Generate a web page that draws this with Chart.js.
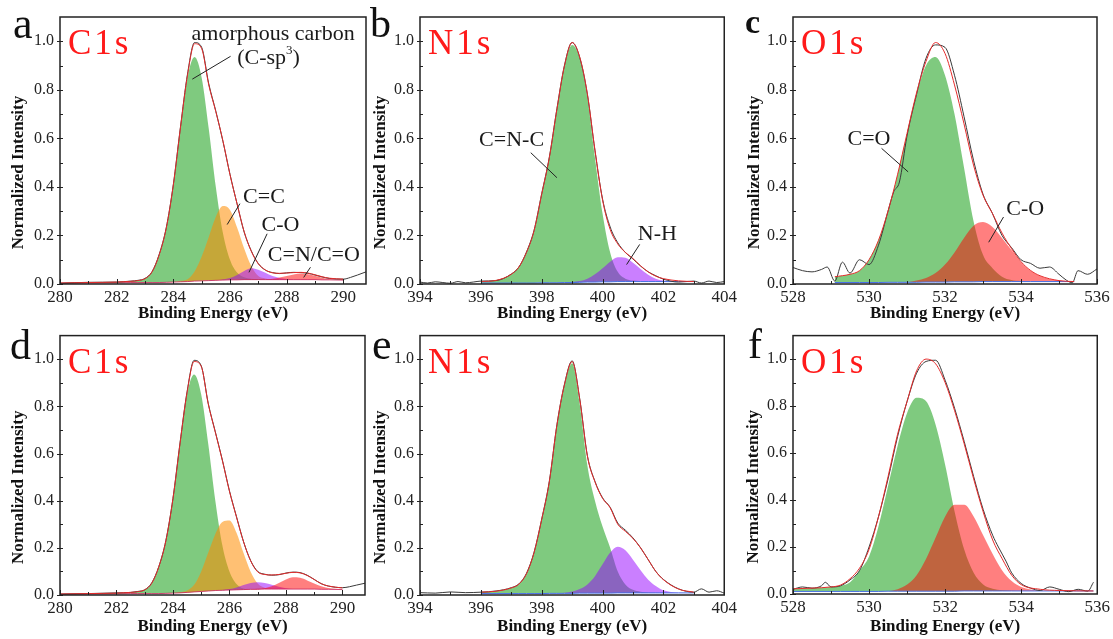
<!DOCTYPE html>
<html>
<head>
<meta charset="utf-8">
<script src="https://cdn.jsdelivr.net/npm/chart.js@4.4.1/dist/chart.umd.min.js"></script>
<style>
  html, body { margin: 0; padding: 0; background: #fff; }
  #fig { position: relative; width: 1113px; height: 639px; overflow: hidden; background: #fff; }
  .panel { position: absolute; }
</style>
</head>
<body>
<div id="fig">
  <canvas id="pa" class="panel" width="370" height="330" style="left:0;top:0"></canvas>
  <canvas id="pb" class="panel" width="370" height="330" style="left:370px;top:0"></canvas>
  <canvas id="pc" class="panel" width="373" height="330" style="left:740px;top:0"></canvas>
  <canvas id="pd" class="panel" width="370" height="319" style="left:0;top:320px"></canvas>
  <canvas id="pe" class="panel" width="370" height="319" style="left:370px;top:320px"></canvas>
  <canvas id="pf" class="panel" width="373" height="319" style="left:740px;top:320px"></canvas>
</div>
<script>
// ---- panel a : C1s ----
const aX = [280, 281, 282, 282.5, 282.75, 283, 283.25, 283.5, 283.75, 284, 284.25, 284.5, 284.75, 285, 285.25, 285.5, 285.75, 286, 286.25, 286.5, 286.75, 287, 287.25, 287.5, 287.75, 288, 288.25, 288.5, 288.75, 289, 289.25, 289.5, 290];
const aBg = [0.003, 0.004, 0.005, 0.006, 0.006, 0.006, 0.006, 0.006, 0.007, 0.008, 0.009, 0.010, 0.012, 0.013, 0.014, 0.015, 0.016, 0.017, 0.017, 0.018, 0.018, 0.018, 0.018, 0.018, 0.018, 0.018, 0.018, 0.018, 0.018, 0.018, 0.017, 0.017, 0.016];
const aSp3 = [0.004, 0.006, 0.008, 0.011, 0.014, 0.022, 0.05, 0.12, 0.23, 0.408, 0.639, 0.85, 0.935, 0.85, 0.64, 0.40, 0.21, 0.10, 0.047, 0.028, 0.022, 0.02, 0.019, 0.019, 0.018, 0.018, 0.018, 0.018, 0.018, 0.018, 0.017, 0.017, 0.016];
const aCC = [0.003, 0.004, 0.005, 0.006, 0.006, 0.006, 0.006, 0.006, 0.007, 0.008, 0.013, 0.02, 0.052, 0.113, 0.194, 0.277, 0.321, 0.305, 0.233, 0.146, 0.074, 0.033, 0.023, 0.018, 0.018, 0.018, 0.018, 0.018, 0.018, 0.018, 0.017, 0.017, 0.016];
const aCO = [0.003, 0.004, 0.005, 0.006, 0.006, 0.006, 0.006, 0.006, 0.007, 0.008, 0.009, 0.010, 0.012, 0.013, 0.014, 0.015, 0.019, 0.025, 0.037, 0.054, 0.065, 0.059, 0.046, 0.033, 0.025, 0.021, 0.018, 0.018, 0.018, 0.018, 0.017, 0.017, 0.016];
const aCN = [0.003, 0.004, 0.005, 0.006, 0.006, 0.006, 0.006, 0.006, 0.007, 0.008, 0.009, 0.010, 0.012, 0.013, 0.014, 0.015, 0.016, 0.017, 0.017, 0.018, 0.018, 0.018, 0.018, 0.022, 0.027, 0.033, 0.039, 0.043, 0.04, 0.034, 0.026, 0.021, 0.017];
const aFit = [0.004, 0.006, 0.008, 0.011, 0.014, 0.022, 0.05, 0.12, 0.23, 0.408, 0.643, 0.86, 0.99, 0.97, 0.82, 0.71, 0.59, 0.45, 0.33, 0.215, 0.135, 0.083, 0.058, 0.046, 0.044, 0.045, 0.047, 0.048, 0.045, 0.038, 0.03, 0.024, 0.02];
const aRawX = [...aX, 290.25, 290.5, 290.8];
const aRaw = [0.003, 0.007, 0.008, 0.012, 0.015, 0.023, 0.051, 0.122, 0.232, 0.41, 0.645, 0.865, 0.995, 0.975, 0.825, 0.712, 0.588, 0.452, 0.33, 0.214, 0.137, 0.084, 0.057, 0.047, 0.043, 0.046, 0.048, 0.047, 0.044, 0.037, 0.029, 0.023, 0.02, 0.027, 0.037, 0.05];

// ---- panel b : N1s ----
const bX = [396, 396.5, 397, 397.25, 397.5, 397.75, 398, 398.25, 398.5, 398.75, 399, 399.25, 399.5, 399.75, 400, 400.25, 400.5, 400.75, 401, 401.25, 401.5, 401.75, 402, 402.5, 403];
const bBg = [0.004, 0.004, 0.004, 0.004, 0.004, 0.004, 0.005, 0.005, 0.005, 0.006, 0.006, 0.007, 0.008, 0.008, 0.009, 0.009, 0.01, 0.01, 0.01, 0.01, 0.01, 0.01, 0.01, 0.01, 0.01];
const bCNC = [0.01, 0.015, 0.04, 0.07, 0.13, 0.22, 0.37, 0.52, 0.72, 0.90, 0.985, 0.93, 0.77, 0.52, 0.29, 0.13, 0.05, 0.022, 0.014, 0.012, 0.011, 0.011, 0.011, 0.01, 0.01];
const bNH = [0.004, 0.004, 0.004, 0.004, 0.004, 0.004, 0.005, 0.005, 0.005, 0.006, 0.008, 0.012, 0.022, 0.04, 0.065, 0.092, 0.11, 0.108, 0.088, 0.062, 0.038, 0.022, 0.014, 0.01, 0.01];
const bFit = [0.01, 0.015, 0.04, 0.07, 0.13, 0.22, 0.37, 0.52, 0.72, 0.90, 0.995, 0.935, 0.784, 0.552, 0.346, 0.225, 0.165, 0.13, 0.105, 0.075, 0.05, 0.032, 0.022, 0.013, 0.01];
const bRawX = [394, 394.25, 394.5, 394.75, 395, 395.25, 395.5, 395.75, ...bX, 403.25, 403.5, 403.75, 404];
const bRaw = [0.008, 0.004, 0.009, 0.006, 0.003, 0.01, 0.005, 0.008,
  0.012, 0.014, 0.041, 0.07, 0.132, 0.222, 0.372, 0.522, 0.722, 0.902, 0.995, 0.933, 0.782, 0.55, 0.35, 0.235, 0.17, 0.13, 0.103, 0.074, 0.05, 0.034, 0.02, 0.008, 0.012,
  0.004, 0.012, 0.006, 0.01];

// ---- panel c : O1s ----
const cX = [529.1, 529.5, 529.75, 530, 530.25, 530.5, 530.75, 531, 531.25, 531.5, 531.75, 532, 532.25, 532.5, 532.75, 533, 533.25, 533.5, 533.75, 534, 534.25, 534.5, 535, 535.4];
const cBg = [0.006, 0.006, 0.006, 0.006, 0.006, 0.007, 0.007, 0.007, 0.007, 0.008, 0.008, 0.008, 0.009, 0.009, 0.009, 0.01, 0.01, 0.01, 0.01, 0.01, 0.01, 0.01, 0.01, 0.01];
const cCdO = [0.03, 0.04, 0.055, 0.1, 0.18, 0.3, 0.45, 0.62, 0.78, 0.9, 0.935, 0.86, 0.7, 0.48, 0.26, 0.12, 0.065, 0.03, 0.016, 0.012, 0.011, 0.011, 0.01, 0.01];
const cCO = [0.006, 0.006, 0.006, 0.006, 0.006, 0.007, 0.007, 0.007, 0.014, 0.025, 0.045, 0.08, 0.13, 0.19, 0.24, 0.255, 0.235, 0.19, 0.14, 0.09, 0.055, 0.033, 0.014, 0.01];
const cFit = [0.03, 0.04, 0.055, 0.1, 0.18, 0.3, 0.45, 0.62, 0.787, 0.917, 0.995, 0.95, 0.82, 0.66, 0.49, 0.366, 0.29, 0.21, 0.146, 0.092, 0.056, 0.034, 0.014, 0.01];
const cRawX = [528, 528.25, 528.5, 528.75, 528.9, 529.1, 529.3, 529.5, 529.75, 530, 530.25, 530.5, 530.65, 530.8, 531, 531.25, 531.5, 531.75, 532, 532.25, 532.5, 532.75, 533, 533.25, 533.5, 533.75, 534, 534.25, 534.5, 534.75, 535, 535.2, 535.35, 535.5, 535.75, 536];
const cRaw = [0.068, 0.055, 0.05, 0.06, 0.07, 0.012, 0.09, 0.045, 0.1, 0.08, 0.16, 0.3, 0.38, 0.42, 0.61, 0.78, 0.93, 0.985, 0.975, 0.86, 0.69, 0.51, 0.37, 0.29, 0.2, 0.15, 0.1, 0.085, 0.065, 0.07, 0.04, 0.015, 0.005, 0.055, 0.04, 0.062];

// ---- panel d : C1s ----
const dX = aX;
const dBg = [0.003, 0.004, 0.005, 0.006, 0.006, 0.006, 0.006, 0.006, 0.007, 0.008, 0.009, 0.011, 0.013, 0.015, 0.017, 0.019, 0.02, 0.021, 0.022, 0.023, 0.024, 0.024, 0.025, 0.025, 0.025, 0.025, 0.025, 0.025, 0.025, 0.025, 0.024, 0.024, 0.023];
const dSp3 = [0.004, 0.006, 0.008, 0.011, 0.014, 0.022, 0.05, 0.12, 0.23, 0.408, 0.639, 0.851, 0.935, 0.85, 0.64, 0.40, 0.21, 0.10, 0.047, 0.028, 0.025, 0.024, 0.025, 0.025, 0.025, 0.025, 0.025, 0.025, 0.025, 0.025, 0.024, 0.024, 0.023];
const dCC = [0.003, 0.004, 0.005, 0.006, 0.006, 0.006, 0.006, 0.006, 0.007, 0.008, 0.012, 0.019, 0.043, 0.10, 0.18, 0.259, 0.31, 0.316, 0.264, 0.178, 0.099, 0.049, 0.031, 0.025, 0.025, 0.025, 0.025, 0.025, 0.025, 0.025, 0.024, 0.024, 0.023];
const dCO = [0.003, 0.004, 0.005, 0.006, 0.006, 0.006, 0.006, 0.006, 0.007, 0.008, 0.009, 0.011, 0.013, 0.015, 0.017, 0.019, 0.021, 0.025, 0.032, 0.042, 0.051, 0.054, 0.051, 0.043, 0.035, 0.029, 0.025, 0.025, 0.025, 0.025, 0.024, 0.024, 0.023];
const dCN = [0.003, 0.004, 0.005, 0.006, 0.006, 0.006, 0.006, 0.006, 0.007, 0.008, 0.009, 0.011, 0.013, 0.015, 0.017, 0.019, 0.02, 0.021, 0.022, 0.023, 0.024, 0.026, 0.029, 0.037, 0.051, 0.066, 0.075, 0.073, 0.062, 0.049, 0.037, 0.03, 0.025];
const dFit = [0.004, 0.006, 0.008, 0.011, 0.014, 0.022, 0.05, 0.12, 0.23, 0.408, 0.642, 0.859, 0.99, 0.97, 0.81, 0.69, 0.57, 0.44, 0.33, 0.225, 0.145, 0.098, 0.087, 0.085, 0.087, 0.092, 0.096, 0.094, 0.083, 0.066, 0.048, 0.038, 0.03];
const dRawX = [...dX, 290.25, 290.5, 290.8];
const dRaw = [0.004, 0.006, 0.009, 0.011, 0.015, 0.022, 0.052, 0.121, 0.232, 0.41, 0.645, 0.862, 0.995, 0.972, 0.812, 0.692, 0.572, 0.442, 0.332, 0.226, 0.146, 0.1, 0.088, 0.084, 0.086, 0.093, 0.097, 0.095, 0.084, 0.066, 0.048, 0.038, 0.031, 0.035, 0.042, 0.05];

// ---- panel e : N1s ----
const eX = bX;
const eBg = [0.006, 0.006, 0.006, 0.006, 0.006, 0.006, 0.006, 0.007, 0.007, 0.007, 0.007, 0.008, 0.008, 0.008, 0.008, 0.008, 0.009, 0.009, 0.009, 0.009, 0.009, 0.009, 0.009, 0.009, 0.009];
const eCNC = [0.012, 0.015, 0.03, 0.046, 0.09, 0.18, 0.32, 0.48, 0.72, 0.89, 0.983, 0.81, 0.55, 0.4, 0.29, 0.2, 0.1, 0.045, 0.022, 0.014, 0.011, 0.01, 0.009, 0.009, 0.009];
const eNH = [0.006, 0.006, 0.006, 0.006, 0.006, 0.006, 0.006, 0.007, 0.007, 0.01, 0.015, 0.025, 0.045, 0.08, 0.13, 0.18, 0.205, 0.19, 0.15, 0.105, 0.065, 0.038, 0.02, 0.01, 0.009];
const eFit = [0.012, 0.016, 0.03, 0.046, 0.09, 0.18, 0.32, 0.48, 0.72, 0.893, 0.99, 0.83, 0.59, 0.48, 0.41, 0.37, 0.3, 0.27, 0.24, 0.2, 0.15, 0.1, 0.065, 0.025, 0.012];
const eRawX = [394, 394.5, 395, 395.5, ...eX, 403.25, 403.5, 403.75, 404];
const eRaw = [0.01, 0.008, 0.013, 0.01,
  0.012, 0.017, 0.031, 0.047, 0.092, 0.182, 0.322, 0.482, 0.722, 0.895, 0.993, 0.832, 0.592, 0.482, 0.412, 0.372, 0.305, 0.275, 0.242, 0.2, 0.15, 0.1, 0.066, 0.026, 0.012,
  0.026, 0.012, 0.018, 0.008];

// ---- panel f : O1s ----
const fX = [528, 528.5, 529, 529.25, 529.5, 529.75, 530, 530.25, 530.5, 530.75, 531, 531.25, 531.5, 531.75, 532, 532.25, 532.5, 532.75, 533, 533.25, 533.5, 533.75, 534, 534.5, 535, 535.9];
const fBg = [0.011, 0.011, 0.011, 0.011, 0.011, 0.011, 0.011, 0.011, 0.012, 0.012, 0.012, 0.012, 0.012, 0.012, 0.012, 0.012, 0.013, 0.013, 0.013, 0.013, 0.013, 0.013, 0.013, 0.013, 0.013, 0.013];
const fCdO = [0.022, 0.025, 0.03, 0.035, 0.05, 0.1, 0.16, 0.29, 0.46, 0.63, 0.77, 0.835, 0.82, 0.72, 0.55, 0.35, 0.19, 0.09, 0.04, 0.022, 0.016, 0.014, 0.013, 0.013, 0.013, 0.013];
const fCO = [0.011, 0.011, 0.011, 0.011, 0.011, 0.011, 0.011, 0.011, 0.012, 0.02, 0.04, 0.08, 0.15, 0.24, 0.33, 0.38, 0.38, 0.33, 0.25, 0.17, 0.1, 0.055, 0.03, 0.015, 0.013, 0.013];
const fFit = [0.022, 0.025, 0.03, 0.038, 0.065, 0.11, 0.19, 0.33, 0.5, 0.68, 0.82, 0.95, 1.0, 0.98, 0.9, 0.78, 0.64, 0.49, 0.35, 0.23, 0.15, 0.08, 0.04, 0.02, 0.015, 0.013];
const fRawX = [528, 528.25, 528.5, 528.75, 528.85, 529, 529.25, 529.5, 529.75, 530, 530.25, 530.5, 530.75, 531, 531.25, 531.5, 531.75, 532, 532.25, 532.5, 532.75, 533, 533.25, 533.4, 533.6, 533.75, 534, 534.25, 534.5, 534.75, 535, 535.25, 535.5, 535.75, 535.9];
const fRaw = [0.02, 0.03, 0.025, 0.035, 0.05, 0.03, 0.035, 0.06, 0.1, 0.2, 0.33, 0.49, 0.67, 0.82, 0.94, 0.99, 0.995, 0.91, 0.79, 0.65, 0.5, 0.36, 0.25, 0.2, 0.14, 0.09, 0.045, 0.025, 0.015, 0.03, 0.02, 0.01, 0.02, 0.012, 0.05];

const yTicks = [0, 0.2, 0.4, 0.6, 0.8, 1.0];

const SERIF = '"Liberation Serif", "Times New Roman", serif';
const GREEN = 'rgba(0,150,0,0.5)';
const ORANGE = 'rgba(255,140,0,0.55)';
const PURPLE = 'rgba(150,0,255,0.5)';
const RED = 'rgba(255,0,0,0.5)';

const pts = (xs, ys) => xs.map((x, i) => ({ x: x, y: ys[i] }));

// frame, ticks, labels and leader lines
const decor = {
    id: 'decor',
    afterDraw(chart, args, o) {
        const { ctx, chartArea: a, scales: { x, y } } = chart;
        ctx.save();
        ctx.strokeStyle = '#222';
        ctx.lineWidth = 1;
        ctx.beginPath();
        for (let v = Math.ceil(x.min); v <= x.max + 1e-6; v += 1) {
            const px = Math.round(x.getPixelForValue(v)) + 0.5;
            const len = (v % 2 === 0) ? 5 : 3;
            ctx.moveTo(px, a.bottom);
            ctx.lineTo(px, a.bottom - len);
        }
        for (let k = 0; k <= 10; k++) {
            const py = Math.round(y.getPixelForValue(k / 10)) + 0.5;
            if (k % 2 === 0) {
                ctx.moveTo(a.left - 3, py);
                ctx.lineTo(a.left + 3, py);
            } else {
                ctx.moveTo(a.left, py);
                ctx.lineTo(a.left + 3, py);
            }
        }
        ctx.stroke();

        ctx.lineWidth = 1.5;
        ctx.strokeRect(a.left, a.top, a.right - a.left, a.bottom - a.top);

        // leader lines
        ctx.lineWidth = 1;
        (o.lines || []).forEach(l => {
            ctx.beginPath();
            ctx.moveTo(x.getPixelForValue(l[0]), y.getPixelForValue(l[1]));
            ctx.lineTo(x.getPixelForValue(l[2]), y.getPixelForValue(l[3]));
            ctx.stroke();
        });

        // notes, '^' toggles superscript
        ctx.fillStyle = '#1a1a1a';
        ctx.textBaseline = 'middle';
        ctx.textAlign = 'left';
        (o.notes || []).forEach(n => {
            const parts = n.t.split('^');
            const fonts = parts.map((p, i) => (i % 2 ? '13px ' : '22px ') + SERIF);
            let w = 0;
            parts.forEach((p, i) => { ctx.font = fonts[i]; w += ctx.measureText(p).width; });
            let px = x.getPixelForValue(n.x) - w / 2;
            const py = y.getPixelForValue(n.y);
            parts.forEach((p, i) => {
                ctx.font = fonts[i];
                ctx.fillText(p, px, i % 2 ? py - 8 : py);
                px += ctx.measureText(p).width;
            });
        });

        // y title
        ctx.save();
        ctx.translate(a.left - o.titleDx, (a.top + a.bottom) / 2 + 22);
        ctx.rotate(-Math.PI / 2);
        ctx.font = 'bold 17px ' + SERIF;
        ctx.textAlign = 'center';
        ctx.fillStyle = '#111';
        ctx.fillText('Normalized Intensity', 0, 0);
        ctx.restore();

        // panel letter and core level
        ctx.textBaseline = 'alphabetic';
        ctx.textAlign = 'left';
        ctx.font = o.letterFont + ' ' + SERIF;
        ctx.fillStyle = '#111';
        ctx.fillText(o.letter, a.left + o.lx, a.top + o.ly);
        ctx.font = '35px ' + SERIF;
        ctx.fillStyle = '#ff1a1a';
        ctx.letterSpacing = '3px';
        ctx.fillText(o.level, a.left + 8, a.top + 37);
        ctx.letterSpacing = '0px';
        ctx.restore();
    }
};

function makePanel(id, p) {
    const sets = [{ data: pts(p.x, p.bg), borderColor: p.bgColor, borderWidth: 1, fill: false, order: 2 }];
    p.comps.forEach((c, i) => sets.push({
        data: pts(p.x, c[0]), backgroundColor: c[1], borderColor: 'rgba(0,0,0,0)', borderWidth: 1, fill: 0, order: 10 - i
    }));
    sets.push({ data: pts(p.rawX, p.raw), borderColor: '#3a3a3a', borderWidth: 1, fill: false, order: 1 });
    sets.push({ data: pts(p.x, p.fit), borderColor: '#e52b2b', borderWidth: 1, fill: false, order: 0 });

    new Chart(document.getElementById(id), {
        type: 'line',
        data: { datasets: sets },
        plugins: [decor],
        options: {
            responsive: false,
            animation: false,
            events: [],
            elements: { point: { radius: 0 }, line: { cubicInterpolationMode: 'monotone' } },
            layout: { autoPadding: false, padding: p.pad },
            plugins: {
                legend: { display: false },
                tooltip: { enabled: false },
                decor: p.decor
            },
            scales: {
                x: {
                    type: 'linear',
                    min: p.xMin,
                    max: p.xMax,
                    border: { display: false },
                    grid: { display: false, drawTicks: false },
                    ticks: {
                        stepSize: 2, includeBounds: false, autoSkip: false, maxRotation: 0, padding: 3,
                        color: '#222', font: { family: SERIF, size: 17 },
                        callback: v => Math.round(v)
                    },
                    title: {
                        display: true, text: 'Binding Energy (eV)', color: '#111', padding: 0,
                        font: { family: SERIF, size: 17, weight: 'bold' }
                    },
                    afterFit: s => { s.height = p.xh; }
                },
                y: {
                    min: 0,
                    max: 1.1,
                    border: { display: false },
                    grid: { display: false, drawTicks: false },
                    afterBuildTicks: s => { s.ticks = yTicks.map(v => ({ value: v })); },
                    ticks: {
                        padding: 6, color: '#222', font: { family: SERIF, size: 16 },
                        callback: v => v.toFixed(1)
                    },
                    afterFit: s => { s.width = p.yw; }
                }
            }
        }
    });
}

document.addEventListener('DOMContentLoaded', () => {
    const rowTop = { top: 17, bottom: 6 };
    const rowBot = { top: 10, bottom: 2 };

    makePanel('pa', {
        x: aX, bg: aBg, bgColor: 'rgba(200,30,90,0.8)',
        comps: [[aSp3, GREEN], [aCC, ORANGE], [aCO, PURPLE], [aCN, RED]],
        fit: aFit, rawX: aRawX, raw: aRaw,
        xMin: 280, xMax: 290.8, yw: 60, xh: 40,
        pad: { left: 0, right: 4, top: rowTop.top, bottom: rowTop.bottom },
        decor: {
            letter: 'a', letterFont: '44px', lx: -47, ly: 21, level: 'C1s', titleDx: 41,
            notes: [
                { t: 'amorphous carbon', x: 287.52, y: 1.028 },
                { t: '(C-sp^3^)', x: 287.36, y: 0.93 },
                { t: 'C=C', x: 287.2, y: 0.357 },
                { t: 'C-O', x: 287.78, y: 0.241 },
                { t: 'C=N/C=O', x: 288.96, y: 0.117 }
            ],
            lines: [
                [284.67, 0.844, 286.02, 0.938],
                [285.9, 0.245, 286.35, 0.331],
                [286.67, 0.048, 287.31, 0.207],
                [288.6, 0.027, 288.84, 0.069]
            ]
        }
    });

    makePanel('pb', {
        x: bX, bg: bBg, bgColor: 'rgb(70,110,230)',
        comps: [[bCNC, GREEN], [bNH, PURPLE]],
        fit: bFit, rawX: bRawX, raw: bRaw,
        xMin: 394, xMax: 404, yw: 50, xh: 40,
        pad: { left: 0, right: 13, top: rowTop.top, bottom: rowTop.bottom },
        decor: {
            letter: 'b', letterFont: '42px', lx: -50, ly: 20, level: 'N1s', titleDx: 39,
            notes: [
                { t: 'C=N-C', x: 397.01, y: 0.594 },
                { t: 'N-H', x: 401.8, y: 0.204 }
            ],
            lines: [
                [397.64, 0.541, 398.5, 0.438],
                [400.79, 0.08, 401.22, 0.163]
            ]
        }
    });

    makePanel('pc', {
        x: cX, bg: cBg, bgColor: 'rgb(70,110,230)',
        comps: [[cCdO, GREEN], [cCO, RED]],
        fit: cFit, rawX: cRawX, raw: cRaw,
        xMin: 528, xMax: 536, yw: 53, xh: 40,
        pad: { left: 0, right: 16, top: rowTop.top, bottom: rowTop.bottom },
        decor: {
            letter: 'c', letterFont: 'bold 34px', lx: -48, ly: 16, level: 'O1s', titleDx: 38,
            notes: [
                { t: 'C=O', x: 530.0, y: 0.595 },
                { t: 'C-O', x: 534.11, y: 0.31 }
            ],
            lines: [
                [530.33, 0.559, 531.03, 0.462],
                [533.15, 0.172, 533.54, 0.276]
            ]
        }
    });

    makePanel('pd', {
        x: dX, bg: dBg, bgColor: 'rgba(200,30,90,0.8)',
        comps: [[dSp3, GREEN], [dCC, ORANGE], [dCO, PURPLE], [dCN, RED]],
        fit: dFit, rawX: dRawX, raw: dRaw,
        xMin: 280, xMax: 290.8, yw: 60, xh: 42,
        pad: { left: 0, right: 5, top: rowBot.top, bottom: rowBot.bottom },
        decor: { letter: 'd', letterFont: '42px', lx: -50, ly: 23, level: 'C1s', titleDx: 41 }
    });

    makePanel('pe', {
        x: eX, bg: eBg, bgColor: 'rgb(70,110,230)',
        comps: [[eCNC, GREEN], [eNH, PURPLE]],
        fit: eFit, rawX: eRawX, raw: eRaw,
        xMin: 394, xMax: 404, yw: 50, xh: 42,
        pad: { left: 0, right: 13, top: rowBot.top, bottom: rowBot.bottom },
        decor: { letter: 'e', letterFont: '44px', lx: -48, ly: 23, level: 'N1s', titleDx: 39 }
    });

    makePanel('pf', {
        x: fX, bg: fBg, bgColor: 'rgb(70,110,230)',
        comps: [[fCdO, GREEN], [fCO, RED]],
        fit: fFit, rawX: fRawX, raw: fRaw,
        xMin: 528, xMax: 536, yw: 53, xh: 43,
        pad: { left: 0, right: 15, top: 11, bottom: rowBot.bottom },
        decor: { letter: 'f', letterFont: '42px', lx: -45, ly: 22, level: 'O1s', titleDx: 39 }
    });
});
</script>
</body>
</html>
